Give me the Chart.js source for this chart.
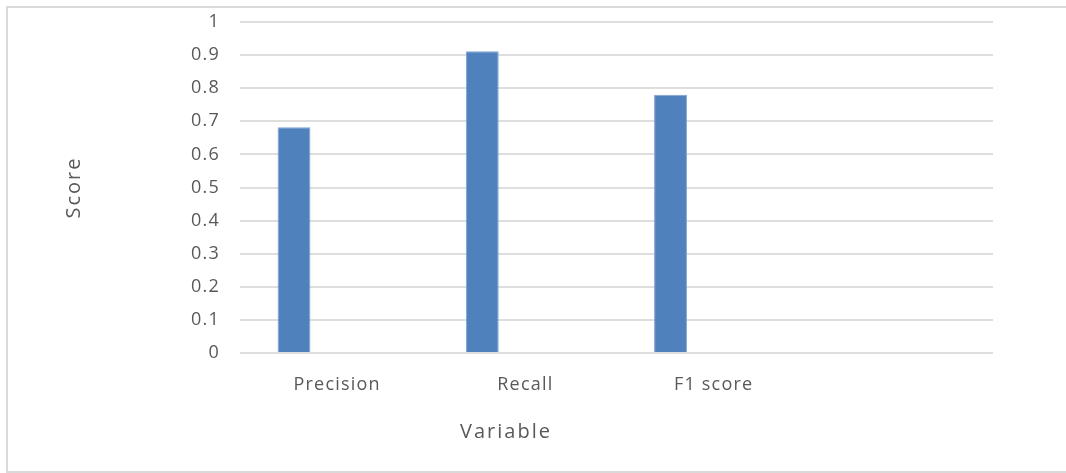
<!DOCTYPE html>
<html>
<head>
<meta charset="utf-8">
<title>Score by variable</title>
<script src="https://cdn.jsdelivr.net/npm/chart.js@4"></script>
<style>
  html, body { margin: 0; padding: 0; background: #ffffff; }
  #wrap { width: 1066px; height: 473px; }
</style>
</head>
<body>
<div id="wrap"><canvas id="chart" width="1066" height="473"></canvas></div>
<script>
// Categories along the x axis (the last slot is left empty)
const categories = ['Precision', 'Recall', 'F1 score', ''];
// Score for each category
const scores = [0.682, 0.912, 0.780, null];
// Companion series with no values (keeps the bar offset within each slot)
const emptySeries = [null, null, null, null];
// Y axis tick labels, bottom to top
const yTickLabels = ['0', '0.1', '0.2', '0.3', '0.4', '0.5', '0.6', '0.7', '0.8', '0.9', '1'];

const xTitle = 'Variable';
const yTitle = 'Score';

const textColor = '#595959';
const gridColor = '#dedede';
const fontFamily = '"Open Sans", "Segoe UI", sans-serif';

// Outer frame, text spacing and axis titles
const decorations = {
  id: 'decorations',
  beforeUpdate(chart) {
    chart.ctx.letterSpacing = '1.2px';
  },
  beforeDraw(chart) {
    const ctx = chart.ctx;
    ctx.letterSpacing = '1.2px';
    ctx.save();
    ctx.strokeStyle = '#d9d9d9';
    ctx.lineWidth = 2;
    ctx.strokeRect(7, 7, 1100, 465);
    ctx.restore();
  },
  afterDraw(chart) {
    const ctx = chart.ctx;
    const area = chart.chartArea;
    ctx.save();
    ctx.fillStyle = textColor;
    ctx.font = '20px ' + fontFamily;
    ctx.letterSpacing = '2px';
    ctx.textAlign = 'center';
    ctx.textBaseline = 'middle';
    // x axis title
    ctx.fillText(xTitle, area.left + 266, area.bottom + 79);
    // y axis title
    ctx.translate(74, (area.top + area.bottom) / 2);
    ctx.rotate(-Math.PI / 2);
    ctx.fillText(yTitle, 0, 0);
    ctx.restore();
  }
};

new Chart(document.getElementById('chart'), {
  type: 'bar',
  data: {
    labels: categories,
    datasets: [
      {
        label: yTitle,
        data: scores,
        backgroundColor: '#4f81bd',
        borderColor: '#7fa3d2',
        borderWidth: { left: 1, right: 1, top: 1, bottom: 0 },
        categoryPercentage: 0.852,
        barPercentage: 0.41
      },
      {
        label: '',
        data: emptySeries,
        backgroundColor: '#c0504d',
        categoryPercentage: 0.852,
        barPercentage: 0.41
      }
    ]
  },
  options: {
    responsive: false,
    animation: false,
    devicePixelRatio: 1,
    layout: { padding: { top: 22, right: 73, bottom: 0, left: 0 } },
    plugins: {
      legend: { display: false },
      tooltip: { enabled: false },
      title: { display: false }
    },
    scales: {
      x: {
        grid: { display: false, drawTicks: false },
        border: { display: false },
        ticks: {
          color: textColor,
          font: { family: fontFamily, size: 18 },
          padding: 21,
          labelOffset: 3,
          maxRotation: 0,
          autoSkip: false
        },
        afterFit(scale) {
          scale.height = 120;
          scale.paddingLeft = 0;
          scale.paddingRight = 0;
        }
      },
      y: {
        min: 0,
        max: 1,
        grid: { color: gridColor, lineWidth: 2, drawTicks: false },
        border: { display: false },
        ticks: {
          stepSize: 0.1,
          color: textColor,
          font: { family: fontFamily, size: 18 },
          padding: 20,
          callback: (value, index) => yTickLabels[index]
        },
        afterFit(scale) {
          scale.width = 240;
          scale.paddingTop = 0;
          scale.paddingBottom = 0;
        }
      }
    }
  },
  plugins: [decorations]
});
</script>
</body>
</html>
